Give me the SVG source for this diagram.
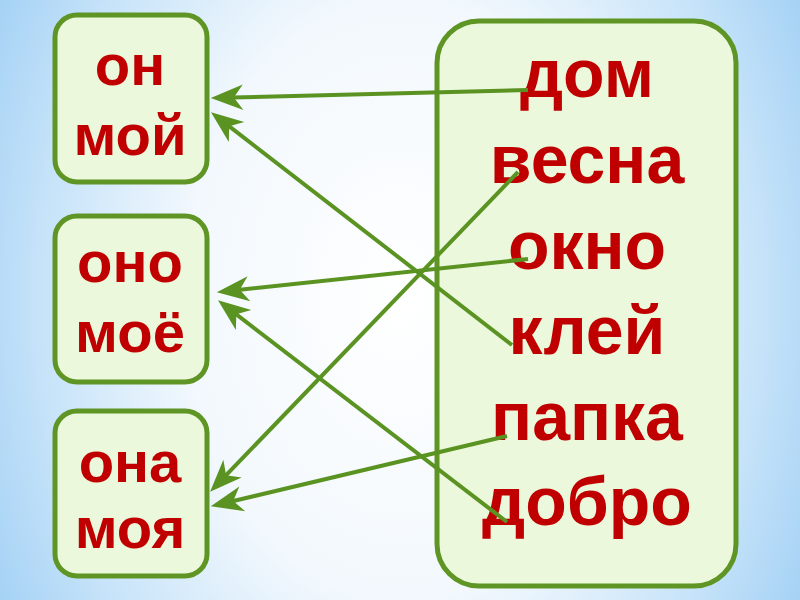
<svg xmlns="http://www.w3.org/2000/svg" width="800" height="600" viewBox="0 0 800 600">
<defs>
<radialGradient id="bg" cx="400" cy="300" r="480" gradientUnits="userSpaceOnUse" gradientTransform="translate(400 300) scale(1 1.4) translate(-400 -300)">
<stop offset="0" stop-color="#ffffff"/>
<stop offset="0.45" stop-color="#f2f8fd"/>
<stop offset="0.75" stop-color="#c6e3f9"/>
<stop offset="1" stop-color="#9ccdf4"/>
</radialGradient>
<marker id="ah" markerUnits="userSpaceOnUse" markerWidth="40" markerHeight="30" viewBox="-22 -13 32 26" refX="0" refY="0" orient="auto" overflow="visible">
<path d="M8,0 L-20,-11 L-12,0 L-20,11 Z" fill="#5a9322"/>
</marker>
<style>
.box{fill:#ebf8dc;stroke:#5f9524;stroke-width:5}
.t{font-family:"Liberation Sans",Arial,sans-serif;font-weight:bold;fill:#c00000;text-anchor:middle}
.s{font-size:58px}
.b{font-size:68px}
.c{stroke:#5a9322;stroke-width:4;fill:none;marker-end:url(#ah)}
</style>
</defs>
<rect width="800" height="600" fill="url(#bg)"/>
<g id="node-on">
<rect class="box" x="55" y="15" width="152" height="167" rx="22"/>
<text class="t s" x="130" y="85">он</text>
<text class="t s" x="130" y="155">мой</text>
</g>
<g id="node-ono">
<rect class="box" x="55" y="216" width="152" height="166" rx="22"/>
<text class="t s" x="130" y="282">оно</text>
<text class="t s" x="130" y="352">моё</text>
</g>
<g id="node-ona">
<rect class="box" x="55" y="411" width="152" height="165" rx="22"/>
<text class="t s" x="130" y="482">она</text>
<text class="t s" x="130" y="548">моя</text>
</g>
<g id="node-words">
<rect class="box" x="437" y="21" width="299" height="565" rx="42"/>
<text class="t b" x="587" y="97">дом</text>
<text class="t b" x="587" y="183">весна</text>
<text class="t b" x="587" y="269">окно</text>
<text class="t b" x="587" y="354">клей</text>
<text class="t b" x="587" y="440">папка</text>
<text class="t b" x="587" y="525">добро</text>
</g>
<g id="connectors">
<path class="c" d="M528,90 L220,97.8"/>
<path class="c" d="M512,345 L218.3,117.9"/>
<path class="c" d="M518,172 L216.5,485.2"/>
<path class="c" d="M528,259 L226,291.2"/>
<path class="c" d="M507,436 L219.8,504.2"/>
<path class="c" d="M507,522 L225.3,305.9"/>
</g>
</svg>
